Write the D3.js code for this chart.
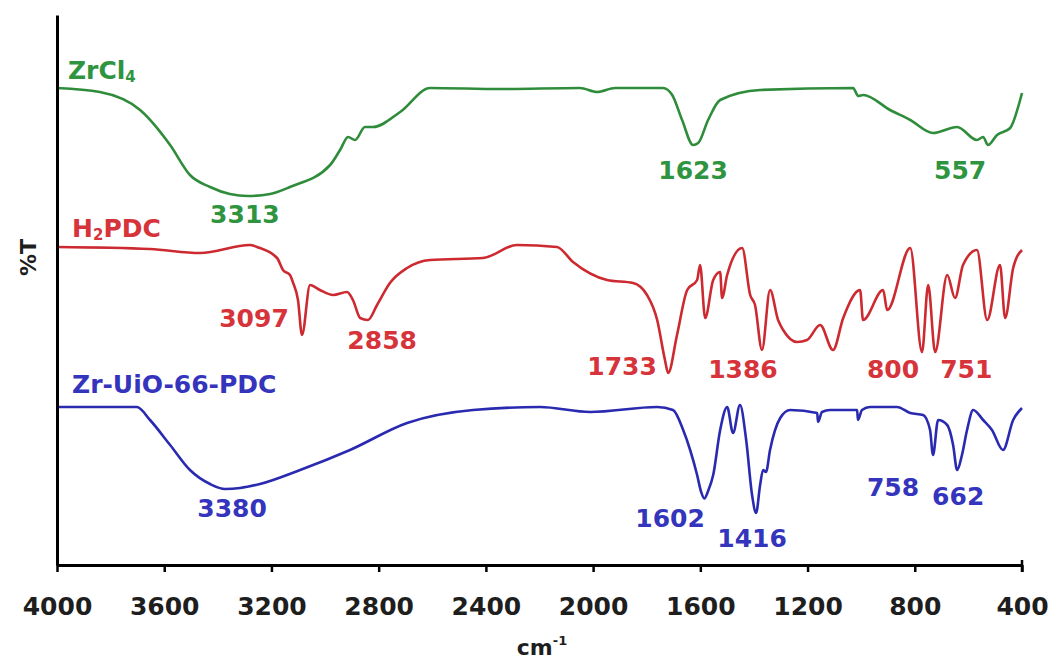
<!DOCTYPE html>
<html>
<head>
<meta charset="utf-8">
<script src="https://cdn.jsdelivr.net/npm/d3@7"></script>
<style>
  body { margin: 0; background: #fff; }
  text { font-family: "DejaVu Sans", Verdana, sans-serif; font-weight: bold; }
</style>
</head>
<body>
<div class="ftir"></div>
<script>
// FTIR spectra, [wavenumber cm-1, %T (offset, arbitrary)]
var zrcl4 = [
  [4000,95.4],[3840,94.6],[3690,91],[3578,84],[3504,78],[3429,75.6],[3355,74.2],[3287,73.8],
  [3205,74.2],[3131,75.6],[2981,80],[2944,83],[2914,85.6],[2888,85],[2851,87.6],[2821,87.6],
  [2720,90.6],[2608,95.4],[2347,95.2],[2049,95.4],[1985,94.6],[1918,95.4],[1739,95.4],
  [1705,94],[1668,89],[1627,84],[1608,84.4],[1571,89],[1526,93],[1377,95],[1030,95.4],
  [1011,93.8],[993,94],[892,91],[817,89],[732,86.4],[642,87.6],[568,85],[545,85.6],
  [527,84],[493,86],[444,87.4],[407,93],[400,94.4]
];

var h2pdc = [
  [4000,63.6],[3653,63.2],[3466,62.4],[3280,64],[3254,63.6],[3179,61.4],[3157,59],[3131,58],
  [3119,56.4],[3101,53],[3086,46],[3056,56],[3019,55],[2970,54],[2918,54.6],[2896,53],
  [2869,49.4],[2840,49],[2806,52],[2758,56.4],[2694,59.4],[2608,61],[2411,61.4],[2284,64],
  [2135,63.6],[2075,60.6],[1948,57],[1851,56.4],[1799,54],[1761,49],[1732,41],[1720,38.4],
  [1687,46],[1649,55],[1612,57],[1601,60],[1582,49.4],[1552,57],[1526,58.6],[1519,53.4],
  [1500,58],[1444,63.4],[1414,54],[1396,52],[1370,43],[1340,55],[1310,49],[1291,47],
  [1239,44.6],[1202,45],[1153,48],[1105,43],[1067,49.4],[1004,55],[993,49],[918,55],
  [903,51],[817,63.4],[773,42.6],[750,56],[724,42.6],[679,58],[650,53.4],[620,60],
  [568,63],[530,49],[482,60],[463,49.4],[433,59.4],[400,63]
];

var uio66 = [
  [4000,31.6],[3702,31.6],[3653,29],[3578,24],[3504,19],[3429,16.2],[3373,15.2],[3317,15.4],
  [3243,16.2],[3093,19],[2907,23],[2694,28.4],[2448,31],[2198,31.6],[2011,30.6],[1761,31.6],
  [1702,31],[1664,27],[1638,23],[1612,18],[1597,14.6],[1585,13.3],[1571,14.8],[1552,18],[1526,27],
  [1500,31.6],[1478,26.4],[1452,32],[1429,25],[1407,14],[1392,10.4],[1377,16],[1366,19],
  [1355,18.6],[1340,23],[1302,29.4],[1265,31],[1164,30.4],[1161,28.6],[1146,30.6],[1116,31],
  [1015,31],[1012,29],[997,31],[967,31.6],[866,31.6],[817,30.4],[769,30],[743,27],
  [732,22],[713,29],[679,28],[657,24],[642,19],[624,22],[605,27],[582,31],[545,29],
  [512,27],[471,23],[433,29],[400,31.4]
];

var xTicks = [4000, 3600, 3200, 2800, 2400, 2000, 1600, 1200, 800, 400];

// series names: [name, subscript, rest, wavenumber, %T]
var seriesNames = [
  ["ZrCl", "4", "", 3959, 99],
  ["H", "2", "PDC", 3944, 67.4],
  ["Zr-UiO-66-PDC", "", "", 3944, 36.2]
];

// peak labels: [text, wavenumber, %T, series index]
var peakLabels = [
  ["3313", 3299, 70.2, 0], ["1623", 1627, 79, 0], ["557", 631, 79, 0],
  ["3097", 3265, 49.4, 1], ["2858", 2787, 45, 1], ["1733", 1892, 39.8, 1],
  ["1386", 1441, 39.2, 1], ["800", 881, 39.2, 1], ["751", 608, 39.2, 1],
  ["3380", 3347, 11.4, 2], ["1602", 1713, 9.4, 2], ["1416", 1407, 5.4, 2],
  ["758", 881, 15.6, 2], ["662", 638, 13.8, 2]
];

var lineColors = ["#2f8c3b", "#cc2a30", "#2a2ab0"];
var textColors = ["#2f9440", "#d6333a", "#3434bc"];

var width = 1060, height = 662;

var svg = d3.select(".ftir")
    .append("svg")
    .attr("width", width)
    .attr("height", height);

var x = d3.scaleLinear().domain([4000, 400]).range([57, 1022]);
var y = d3.scaleLinear().domain([0, 110]).range([565, 15]);

var line = d3.line()
    .x(d => x(d[0]))
    .y(d => y(d[1]))
    .curve(d3.curveMonotoneX);

svg.selectAll("path.spectrum")
    .data([zrcl4, h2pdc, uio66]).enter()
    .append("path")
    .attr("class", "spectrum")
    .attr("d", line)
    .attr("fill", "none")
    .attr("stroke", (d, i) => lineColors[i])
    .attr("stroke-width", 2.6)
    .attr("stroke-linejoin", "round");

// axes
var xAxis = svg.append("g")
    .attr("transform", "translate(0," + y(0) + ")")
    .call(d3.axisBottom(x).tickValues(xTicks).tickFormat(d3.format("d"))
        .tickSize(7).tickSizeOuter(0).tickPadding(25));

xAxis.select(".domain").attr("stroke-width", 3);
xAxis.selectAll(".tick line").attr("stroke-width", 2.5);
xAxis.selectAll(".tick text")
    .attr("font-size", 25)
    .attr("font-family", "DejaVu Sans, sans-serif")
    .attr("font-weight", "bold")
    .attr("fill", "#1e1e1e");

// end cap at 400
xAxis.append("line")
    .attr("x1", x(400)).attr("x2", x(400))
    .attr("y1", -5).attr("y2", 7)
    .attr("stroke", "#000").attr("stroke-width", 2.5);

var yAxis = svg.append("g")
    .attr("transform", "translate(" + x(4000) + ",0)")
    .call(d3.axisLeft(y).tickValues([]).tickSizeOuter(0));
yAxis.select(".domain").attr("stroke-width", 3);

svg.append("text")
    .attr("transform", "translate(28," + y(61.5) + ") rotate(-90)")
    .attr("text-anchor", "middle")
    .attr("dominant-baseline", "central")
    .attr("font-size", 22)
    .attr("fill", "#1e1e1e")
    .text("%T");

var xl = svg.append("text")
    .attr("x", 542)
    .attr("y", 655)
    .attr("text-anchor", "middle")
    .attr("font-size", 22)
    .attr("fill", "#1e1e1e");
xl.append("tspan").text("cm");
xl.append("tspan").attr("font-size", 13).attr("dy", -10).text("-1");

// series names
seriesNames.forEach((s, i) => {
    var t = svg.append("text")
        .attr("x", x(s[3]))
        .attr("y", y(s[4]))
        .attr("dominant-baseline", "central")
        .attr("font-size", 25)
        .attr("fill", textColors[i]);
    t.append("tspan").text(s[0]);
    if (s[1]) {
        t.append("tspan").attr("font-size", 15).attr("dy", 7).text(s[1]);
        t.append("tspan").attr("dy", -7).text(s[2]);
    }
});

svg.selectAll("text.peak")
    .data(peakLabels).enter()
    .append("text")
    .attr("class", "peak")
    .attr("x", d => x(d[1]))
    .attr("y", d => y(d[2]))
    .attr("text-anchor", "middle")
    .attr("dominant-baseline", "central")
    .attr("font-size", 25)
    .attr("fill", d => textColors[d[3]])
    .text(d => d[0]);
</script>
</body>
</html>
